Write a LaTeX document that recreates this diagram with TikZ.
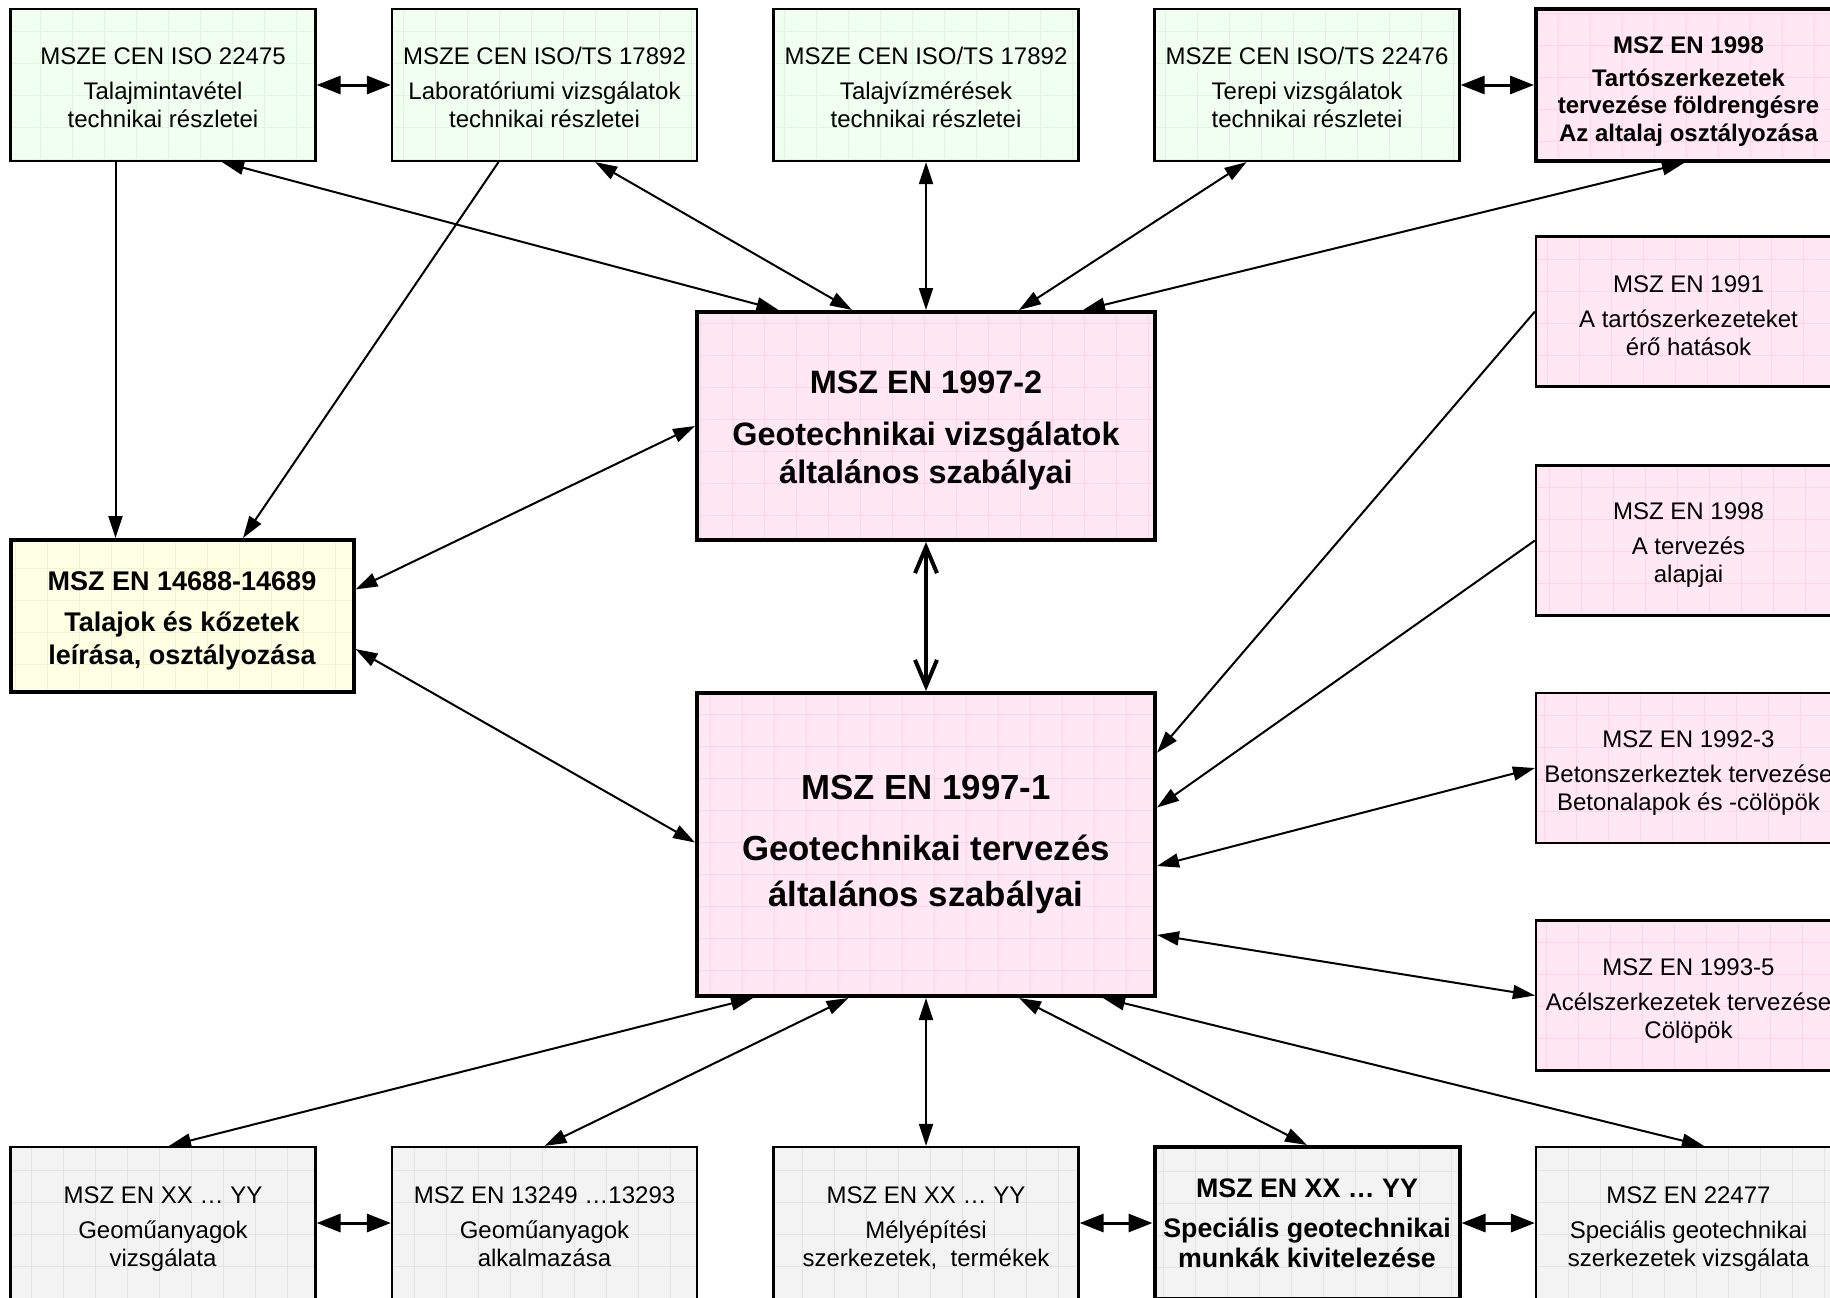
\documentclass[tikz,border=0pt]{standalone}
\usepackage{fontspec}
\setmainfont{Liberation Sans}
\usetikzlibrary{arrows.meta,calc}
\definecolor{grnfill}{HTML}{F0FFF0}
\definecolor{grngrid}{HTML}{E0F5E0}
\definecolor{pnkfill}{HTML}{FFE8F3}
\definecolor{pnkgrid}{HTML}{FFD3E8}
\definecolor{ylwfill}{HTML}{FFFFE3}
\definecolor{ylwgrid}{HTML}{F2F2D2}
\definecolor{gryfill}{HTML}{F3F3F3}
\definecolor{grygrid}{HTML}{E3E3E3}
\newcommand\pushdown[1]{\rule{0pt}{\dimexpr0.72em+#1\relax}}
\newcommand\descstrut{\rule[-0.22em]{0pt}{0.22em}}
\tikzset{
  gridded/.style={path picture={\draw[#1, line width=0.25pt, step=16pt] (path picture bounding box.south west) grid (path picture bounding box.north east);}},
  stdbox/.style={draw=black, line width=1.1pt, minimum width=152.5pt, minimum height=76pt, align=center, inner sep=0pt, font=\fontsize{12}{14}\selectfont},
  greenbox/.style={stdbox, fill=grnfill, gridded=grngrid},
  pinkbox/.style={stdbox, fill=pnkfill, gridded=pnkgrid},
  yellowbox/.style={stdbox, fill=ylwfill, gridded=ylwgrid},
  graybox/.style={stdbox, fill=gryfill, gridded=grygrid},
  heavy/.style={line width=2pt},
  twoway/.style={line width=1pt, {Triangle[length=11pt,width=7pt]}-{Triangle[length=11pt,width=7pt]}},
  oneway/.style={line width=1pt, -{Triangle[length=11pt,width=7pt]}},
  shortarr/.style={line width=1.5pt, {Triangle[length=12pt,width=9pt]}-{Triangle[length=12pt,width=9pt]}},
  thickarr/.style={line width=2pt, {Straight Barb[length=13pt,width=11pt]}-{Straight Barb[length=13pt,width=11pt]}}
}
\begin{document}
\begin{tikzpicture}[x=0.5pt,y=-0.5pt]
\useasboundingbox (0,0) rectangle (1830,1297);
\begin{scope}
\clip (0,0) rectangle (1830,1297);
% top row
\node[greenbox] (b1) at (163,85) {\pushdown{2.4pt}MSZE CEN ISO 22475\\[3.5pt]Talajmintavétel\\technikai részletei};
\node[greenbox] (b2) at (544.5,85) {\pushdown{2.4pt}MSZE CEN ISO/TS 17892\\[3.5pt]Laboratóriumi vizsgálatok\\technikai részletei};
\node[greenbox] (b3) at (926,85) {\pushdown{2.4pt}MSZE CEN ISO/TS 17892\\[3.5pt]Talajvízmérések\\technikai részletei};
\node[greenbox] (b4) at (1307,85) {\pushdown{2.4pt}MSZE CEN ISO/TS 22476\\[3.5pt]Terepi vizsgálatok\\technikai részletei};
\node[pinkbox, heavy, font=\fontsize{12}{13.8}\selectfont\bfseries] (b5) at (1688.5,85) {\pushdown{6pt}MSZ EN 1998\\[2.7pt]Tartószerkezetek\\tervezése földrengésre\\Az altalaj osztályozása};
% centre
\node[pinkbox, heavy, minimum width=229pt, minimum height=114pt, font=\fontsize{16.2}{18.75}\selectfont\bfseries] (c2) at (926,426) {\pushdown{4pt}MSZ EN 1997-2\\[7.5pt]Geotechnikai vizsgálatok\\általános szabályai};
\node[pinkbox, heavy, minimum width=229pt, minimum height=151.5pt, font=\fontsize{17.4}{23.3}\selectfont\bfseries] (c1) at (926,844.5) {MSZ EN 1997-1\\[7pt]Geotechnikai tervezés\\általános szabályai};
% left
\node[yellowbox, heavy, minimum width=171.5pt, font=\fontsize{13.5}{16.5}\selectfont\bfseries] (l) at (182,616) {\pushdown{4.7pt}MSZ EN 14688-14689\\[4pt]Talajok és kőzetek\\leírása, osztályozása};
% right column
\node[pinkbox, minimum height=75pt] (r1) at (1688.5,311.5) {\pushdown{3.5pt}MSZ EN 1991\\[3.5pt]A tartószerkezeteket\\érő hatások};
\node[pinkbox, minimum height=75pt] (r2) at (1688.5,540.5) {\pushdown{4.7pt}MSZ EN 1998\\[3.5pt]A tervezés\\alapjai};
\node[pinkbox, minimum height=75pt] (r3) at (1688.5,768) {\pushdown{5.2pt}MSZ EN 1992-3\\[3.5pt]Betonszerkeztek tervezése\\Betonalapok és -cölöpök};
\node[pinkbox, minimum height=75pt] (r4) at (1688.5,995.5) {\pushdown{5.5pt}MSZ EN 1993-5\\[3.5pt]Acélszerkezetek tervezése\\Cölöpök};
% bottom row
\node[graybox] (d1) at (163,1223) {\pushdown{5.8pt}MSZ EN XX … YY\\[3.5pt]Geoműanyagok\\vizsgálata\descstrut};
\node[graybox] (d2) at (544.5,1223) {\pushdown{5.8pt}MSZ EN 13249 …13293\\[3.5pt]Geoműanyagok\\alkalmazása\descstrut};
\node[graybox] (d3) at (926,1223) {\pushdown{5.8pt}MSZ EN XX … YY\\[3.5pt]Mélyépítési\\szerkezetek,\ \ termékek\descstrut};
\node[graybox, heavy, font=\fontsize{13.4}{15}\selectfont\bfseries] (d4) at (1307,1223) {MSZ EN XX … YY\\[5pt]Speciális geotechnikai\\munkák kivitelezése};
\node[graybox] (d5) at (1688.5,1223) {\pushdown{5.8pt}MSZ EN 22477\\[3.5pt]Speciális geotechnikai\\szerkezetek vizsgálata\descstrut};
% connectors
\draw[shortarr] (b1.east) -- (b2.west);
\draw[shortarr] (b4.east) -- (b5.west);
\draw[oneway] ($(b1.south)+(-47.5,0)$) -- ($(l.north)+(-66.5,0)$);
\draw[oneway] ($(b2.south)+(-46,0)$) -- ($(l.north)+(61,0)$);
\draw[twoway] ($(b1.south)+(59,0)$) -- ($(c2.north)+(-147.5,0)$);
\draw[twoway] ($(b2.south)+(50.7,0)$) -- ($(c2.north)+(-74,0)$);
\draw[twoway] (b3.south) -- (c2.north);
\draw[twoway] ($(b4.south)+(-60.5,0)$) -- ($(c2.north)+(93,0)$);
\draw[twoway] ($(b5.south)+(-4.5,0)$) -- ($(c2.north)+(157,0)$);
\draw[twoway] (c2.west) -- ($(l.east)+(0,-26.6)$);
\draw[thickarr] (c2.south) -- (c1.north);
\draw[twoway] ($(l.east)+(0,33)$) -- ($(c1.west)+(0,-2)$);
\draw[oneway] (r1.west) -- ($(c1.east)+(0,-91.7)$);
\draw[oneway] (r2.west) -- ($(c1.east)+(0,-37)$);
\draw[twoway] (r3.west) -- ($(c1.east)+(0,21.5)$);
\draw[twoway] (r4.west) -- ($(c1.east)+(0,90.4)$);
\draw[twoway] ($(c1.south)+(-173,0)$) -- ($(d1.north)+(6,0)$);
\draw[twoway] ($(c1.south)+(-77.5,0)$) -- (d2.north);
\draw[twoway] (c1.south) -- (d3.north);
\draw[twoway] ($(c1.south)+(93,0)$) -- (d4.north);
\draw[twoway] ($(c1.south)+(177,0)$) -- ($(d5.north)+(15.5,0)$);
\draw[shortarr] (d1.east) -- (d2.west);
\draw[shortarr] (d3.east) -- (d4.west);
\draw[shortarr] (d4.east) -- (d5.west);
\end{scope}
\end{tikzpicture}
\end{document}
